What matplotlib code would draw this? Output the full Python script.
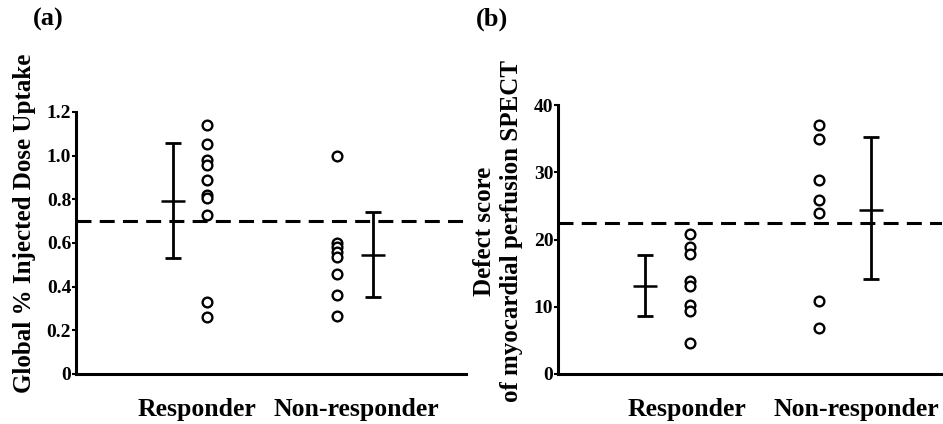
import matplotlib
matplotlib.use("Agg")
import matplotlib.pyplot as plt

# (a) Global % injected dose uptake
a_resp = [1.14, 1.055, 0.98, 0.955, 0.89, 0.82, 0.805, 0.73, 0.33, 0.26]
a_nonresp = [1.0, 0.60, 0.58, 0.56, 0.535, 0.46, 0.36, 0.265]
a_resp_stats = (0.79, 0.53, 1.057)      # mean, low, high
a_nonresp_stats = (0.545, 0.352, 0.743)
a_cutoff = 0.70
a_ticks = [0, 0.2, 0.4, 0.6, 0.8, 1.0, 1.2]
a_ticklabels = ['0', '0.2', '0.4', '0.6', '0.8', '1.0', '1.2']

# (b) Defect score of myocardial perfusion SPECT
b_resp = [20.9, 18.9, 17.9, 13.9, 13.1, 10.2, 9.3, 4.6]
b_nonresp = [37.1, 35.0, 28.9, 25.9, 23.9, 10.8, 6.8]
b_resp_stats = (13.1, 8.6, 17.7)
b_nonresp_stats = (24.4, 14.2, 35.3)
b_cutoff = 22.4
b_ticks = [0, 10, 20, 30, 40]

groups = ['Responder', 'Non-responder']

plt.rcParams['font.family'] = ['Liberation Serif', 'DejaVu Serif']
plt.rcParams['font.weight'] = 'bold'

fig = plt.figure(figsize=(9.43, 4.24), dpi=100)
ax_a = fig.add_axes([0.0806, 0.118, 0.4134, 0.618])
ax_b = fig.add_axes([0.592, 0.118, 0.407, 0.634])


def draw_panel(ax, resp, nonresp, rs, ns, cutoff, pos, ymax):
    # pos: responder errbar, responder dots, non-resp dots, non-resp errbar
    ax.plot([pos[1]] * len(resp), resp, 'o', mfc='white', mec='black',
            ms=7, mew=1.7, zorder=3)
    ax.plot([pos[2]] * len(nonresp), nonresp, 'o', mfc='white', mec='black',
            ms=7, mew=1.7, zorder=3)
    for x, st in [(pos[0], rs), (pos[3], ns)]:
        m, lo, hi = st
        ax.errorbar([x], [m], yerr=[[m - lo], [hi - m]], fmt='none',
                    ecolor='black', elinewidth=2.0, capsize=5.5,
                    capthick=2.0, zorder=2)
        ax.plot([x], [m], marker='_', ms=17, mew=1.8, color='black', zorder=2)
    ax.axhline(cutoff, color='black', lw=2.2, linestyle=(0, (4.9, 2.7)),
               zorder=1)
    ax.set_xlim(0, 10)
    ax.set_ylim(0, ymax)
    for s in ['top', 'right']:
        ax.spines[s].set_visible(False)
    for s in ['left', 'bottom']:
        ax.spines[s].set_linewidth(2.2)
    ax.tick_params(axis='y', length=3, width=1.5, pad=0.5, labelsize=14)
    ax.tick_params(axis='x', length=0, pad=17, labelsize=18.5)


draw_panel(ax_a, a_resp, a_nonresp, a_resp_stats, a_nonresp_stats, a_cutoff,
           [2.49, 3.36, 6.69, 7.61], 1.2)
ax_a.set_yticks(a_ticks)
ax_a.set_yticklabels(a_ticklabels)
ax_a.set_xticks([3.1, 7.2])
ax_a.set_xticklabels(groups)

draw_panel(ax_b, b_resp, b_nonresp, b_resp_stats, b_nonresp_stats, b_cutoff,
           [2.25, 3.42, 6.80, 8.15], 40)
ax_b.set_yticks(b_ticks)
ax_b.set_xticks([3.34, 7.76])
ax_b.set_xticklabels(groups)

fig.text(25 / 943, 1 - 223 / 424, 'Global % Injected Dose Uptake',
         rotation=90, ha='center', va='center', fontsize=18,
         fontweight='bold')
fig.text(498 / 943, 1 - 231 / 424,
         'Defect score\nof myocardial perfusion SPECT',
         rotation=90, ha='center', va='center', fontsize=18,
         fontweight='bold', linespacing=1.2, multialignment='center')

fig.text(48 / 943, 1 - 19 / 424, '(a)', ha='center', va='center',
         fontsize=19, fontweight='bold')
fig.text(492 / 943, 1 - 19 / 424, '(b)', ha='center', va='center',
         fontsize=19, fontweight='bold')

fig.savefig('out.png', dpi=100)
